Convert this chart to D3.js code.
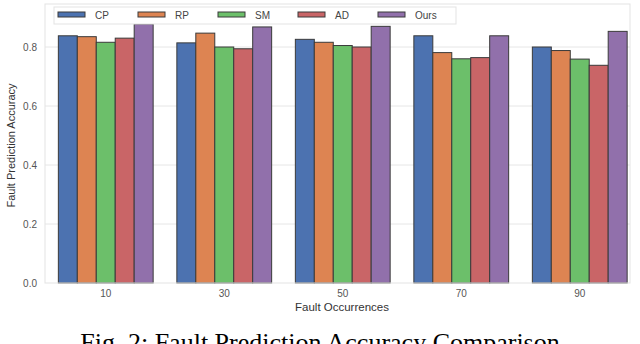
<!DOCTYPE html>
<html>
<head>
<meta charset="utf-8">
<script src="https://cdn.jsdelivr.net/npm/d3@7"></script>
<style>
  body { margin: 0; background: #fff; }
  svg { display: block; }
</style>
</head>
<body>
<div id="chart"></div>
<script>
// Categories, series and ticks
const occurrences = ["10", "30", "50", "70", "90"];
const methods = ["CP", "RP", "SM", "AD", "Ours"];
const cpValues   = [0.838, 0.814, 0.826, 0.838, 0.800];
const rpValues   = [0.835, 0.847, 0.816, 0.781, 0.788];
const smValues   = [0.816, 0.800, 0.805, 0.760, 0.759];
const adValues   = [0.830, 0.794, 0.800, 0.764, 0.738];
const oursValues = [0.878, 0.868, 0.870, 0.838, 0.853];
const yTicks = [0.0, 0.2, 0.4, 0.6, 0.8];
const colors = ["#4c72b0", "#dd8452", "#6cbf6a", "#c96567", "#9170ab"];

const series = [cpValues, rpValues, smValues, adValues, oursValues];

function draw(container) {
  const width = 640;
  const height = 344;
  const frame = {left: 45, right: 630, top: 4, bottom: 283};

  const svg = d3.select(container).append("svg")
    .attr("width", width)
    .attr("height", height)
    .style("font-family", "'Liberation Sans', Arial, sans-serif");

  // scales
  const x = d3.scaleBand()
    .domain(occurrences)
    .range([46.5, 639])
    .paddingInner(0.2)
    .paddingOuter(0.1);

  const xs = d3.scaleBand()
    .domain(methods)
    .range([0, x.bandwidth()]);

  const y = d3.scaleLinear()
    .domain([0, 0.8])
    .range([frame.bottom, 47]);

  // grid lines
  svg.append("g")
    .selectAll("line")
    .data(yTicks.slice(1))
    .join("line")
      .attr("x1", frame.left)
      .attr("x2", frame.right)
      .attr("y1", d => y(d))
      .attr("y2", d => y(d))
      .attr("stroke", "#e6e6e6")
      .attr("stroke-width", 1);

  // bars
  const rows = occurrences.map((o, i) => ({
    occ: o,
    vals: methods.map((m, j) => ({method: m, value: series[j][i], color: colors[j]}))
  }));

  svg.append("g")
    .selectAll("g")
    .data(rows)
    .join("g")
      .attr("transform", d => `translate(${x(d.occ)},0)`)
    .selectAll("rect")
    .data(d => d.vals)
    .join("rect")
      .attr("x", d => xs(d.method))
      .attr("width", xs.bandwidth())
      .attr("y", d => y(d.value))
      .attr("height", d => y(0) - y(d.value))
      .attr("fill", d => d.color)
      .attr("stroke", "#3a3a3a")
      .attr("stroke-width", 1);

  // frame
  svg.append("rect")
    .attr("x", frame.left)
    .attr("y", frame.top)
    .attr("width", frame.right - frame.left)
    .attr("height", frame.bottom - frame.top)
    .attr("fill", "none")
    .attr("stroke", "#e3e3e3")
    .attr("stroke-width", 1);

  // y axis labels
  const yAxis = g => g
      .attr("transform", `translate(${frame.left},0)`)
      .call(d3.axisLeft(y)
          .tickValues(yTicks)
          .tickFormat(d3.format(".1f"))
          .tickSize(0)
          .tickPadding(8))
      .call(g => g.select(".domain").remove())
      .call(g => g.selectAll(".tick text")
          .attr("fill", "#555")
          .style("font-size", "10px")
          .style("font-family", "'Liberation Sans', Arial, sans-serif"));

  svg.append("g").call(yAxis);

  // x axis labels
  const xAxis = g => g
      .attr("transform", `translate(0,${frame.bottom})`)
      .call(d3.axisBottom(x)
          .tickSize(0)
          .tickPadding(7))
      .call(g => g.select(".domain").remove())
      .call(g => g.selectAll(".tick text")
          .attr("fill", "#555")
          .style("font-size", "10px")
          .style("font-family", "'Liberation Sans', Arial, sans-serif"));

  svg.append("g").call(xAxis);

  // axis titles
  svg.append("text")
    .attr("transform", `translate(15,${(frame.top + frame.bottom) / 2 + 2}) rotate(-90)`)
    .attr("text-anchor", "middle")
    .attr("fill", "#333")
    .style("font-size", "11px")
    .text("Fault Prediction Accuracy");

  svg.append("text")
    .attr("x", 342)
    .attr("y", 311)
    .attr("text-anchor", "middle")
    .attr("fill", "#333")
    .style("font-size", "11.5px")
    .text("Fault Occurrences");

  // legend
  const legend = svg.append("g");
  legend.append("rect")
    .attr("x", 54).attr("y", 7)
    .attr("width", 402).attr("height", 17)
    .attr("fill", "#fff")
    .attr("stroke", "#e3e3e3");

  const items = legend.selectAll("g.item")
    .data(methods.map((m, j) => ({method: m, color: colors[j]})))
    .join("g")
      .attr("class", "item")
      .attr("transform", (d, i) => `translate(${58 + i * 80},0)`);

  items.append("rect")
    .attr("x", 0).attr("y", 12)
    .attr("width", 27).attr("height", 5)
    .attr("fill", d => d.color)
    .attr("stroke", "#3a3a3a");

  items.append("text")
    .attr("x", 37).attr("y", 18.5)
    .attr("fill", "#444")
    .style("font-size", "10px")
    .text(d => d.method);

  // caption (cut by the bottom edge, as in the reference)
  svg.append("text")
    .attr("x", 320)
    .attr("y", 351)
    .attr("text-anchor", "middle")
    .attr("fill", "#000")
    .style("font-family", "'Liberation Serif', 'Times New Roman', serif")
    .style("font-size", "26px")
    .text("Fig. 2: Fault Prediction Accuracy Comparison");

  return svg.node();
}

draw("#chart");
</script>
</body>
</html>
